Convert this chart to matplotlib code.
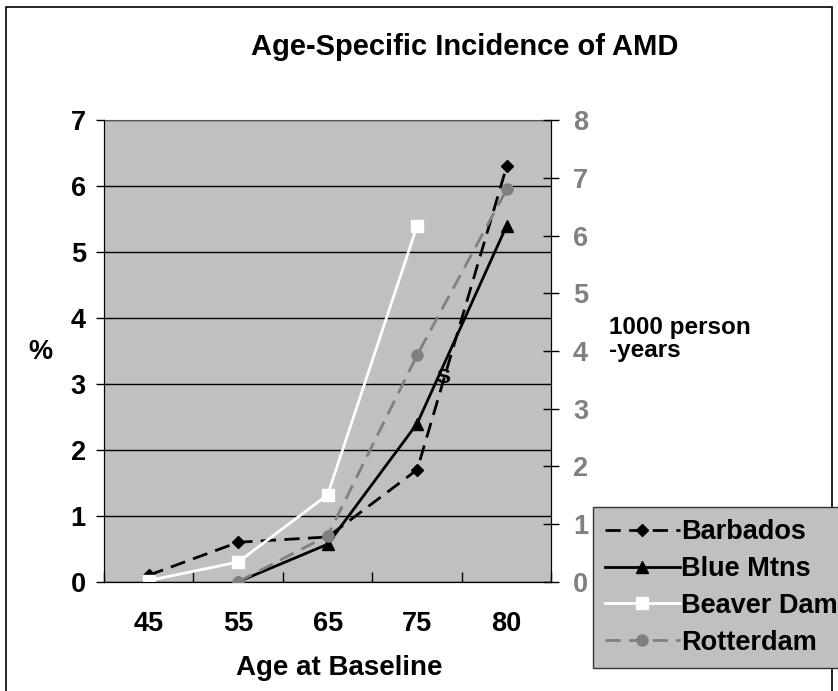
import numpy as np
import matplotlib
matplotlib.use("Agg")
import matplotlib.pyplot as plt
from matplotlib.patches import Rectangle

plt.rcParams["font.family"] = ["Liberation Sans", "DejaVu Sans"]
plt.rcParams["font.weight"] = "bold"

ages = ["45", "55", "65", "75", "80"]
barbados = [0.1, 0.6, 0.68, 1.7, 6.3]
blue_mtns = [np.nan, 0.0, 0.57, 2.4, 5.4]
beaver_dam = [0.02, 0.3, 1.32, 5.4, np.nan]
rotterdam = [np.nan, 0.0, 0.8, 3.93, 6.8]  # plotted on right axis (0-8)

x = np.arange(len(ages))

fig = plt.figure(figsize=(8.38, 6.91), dpi=100)
ax = fig.add_axes([0.124, 0.158, 0.534, 0.668])
ax.set_facecolor("#c0c0c0")
ax2 = ax.twinx()

l1, = ax.plot(x, barbados, color="black", lw=2, dashes=(5.5, 3),
              marker="D", ms=6.5, label="Barbados", zorder=4)
l2, = ax.plot(x, blue_mtns, color="black", lw=2,
              marker="^", ms=8, label="Blue Mtns", zorder=4)
l3, = ax.plot(x, beaver_dam, color="white", lw=2,
              marker="s", ms=8, label="Beaver Dam", zorder=4)
l4, = ax2.plot(x, rotterdam, color="#808080", lw=2, dashes=(5.5, 3),
               marker="o", ms=8, label="Rotterdam", zorder=3)

ax.text(3.29, 3.1, "S", fontsize=15, fontweight="bold", ha="center", va="center", zorder=5)

ax.set_xlim(-0.5, 4.5)
ax.set_ylim(0, 7)
ax2.set_ylim(0, 8)
ax.set_yticks(range(8))
ax2.set_yticks(range(9))
ax.grid(axis="y", color="black", lw=1)
ax.set_axisbelow(True)

ax.set_xticks(np.arange(-0.5, 5, 1))
ax.set_xticklabels([])
ax.set_xticks(x, minor=True)
ax.set_xticklabels(ages, minor=True)
ax.tick_params(axis="x", which="major", direction="in", length=7, width=1)
ax.tick_params(axis="x", which="minor", length=0, pad=21, labelsize=19.5)
ax.tick_params(axis="y", direction="out", length=6, width=1, labelsize=19.5, pad=7)
ax2.tick_params(axis="y", direction="inout", length=11, width=1, labelsize=19.5,
                labelcolor="#808080", pad=10)

ax.spines["top"].set_color("#555555")
ax2.spines["top"].set_visible(False)
ax2.spines["right"].set_color("black")

ax.set_xlabel("Age at Baseline", fontsize=20, fontweight="bold")
ax.xaxis.set_label_coords(0.526, -0.187)
ax.xaxis.label.set_va("center")
fig.text(0.048, 0.491, "%", fontsize=19.5, fontweight="bold", ha="center", va="center")
fig.text(0.727, 0.509, "1000 person\n-years", fontsize=17.5, fontweight="bold",
         ha="left", va="center", linespacing=1.0)
fig.text(0.555, 0.932, "Age-Specific Incidence of AMD", fontsize=21,
         fontweight="bold", ha="center", va="center")

leg = fig.legend(handles=[l1, l2, l3, l4], loc="upper left",
                 bbox_to_anchor=(0.7076, 0.2663), frameon=True, fancybox=False,
                 fontsize=19.5, handlelength=2.75, handletextpad=0.05,
                 borderpad=0.45, labelspacing=0.4, borderaxespad=0)
leg.get_frame().set_facecolor("#c0c0c0")
leg.get_frame().set_edgecolor("#333333")
leg.get_frame().set_alpha(1)

fig.patches.append(Rectangle((6 / 838, -0.02), 826 / 838, 1.02 - 7 / 691,
                             transform=fig.transFigure, fill=False,
                             edgecolor="black", lw=1.2))

fig.savefig("out.png", dpi=100)
